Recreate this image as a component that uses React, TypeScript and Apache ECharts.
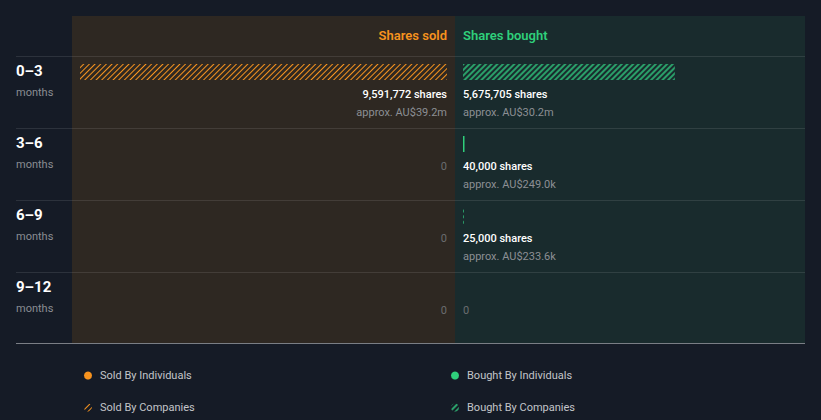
import React, { useEffect, useRef } from 'react';
import * as echarts from 'echarts';

const periods = ['0–3', '3–6', '6–9', '9–12'];
const soldByIndividuals = [0, 0, 0, 0];
const soldByCompanies = [9591772, 0, 0, 0];
const boughtByIndividuals = [0, 40000, 0, 0];
const boughtByCompanies = [5675705, 0, 25000, 0];
const soldApprox = ['AU$39.2m', '', '', ''];
const boughtApprox = ['AU$30.2m', 'AU$249.0k', 'AU$233.6k', ''];

const ORANGE = '#f7931e';
const GREEN = '#2fcf7b';
const GREEN_HATCH = '#2a9f69';
const BG = '#151b26';
const FONT = 'Roboto, sans-serif';

const soldTotals = periods.map((_, i) => soldByIndividuals[i] + soldByCompanies[i]);
const boughtTotals = periods.map((_, i) => boughtByIndividuals[i] + boughtByCompanies[i]);
const scaleMax = Math.max(...soldTotals, ...boughtTotals);

function hatch(color: string, w: number, gap: number) {
  return {
    symbol: 'rect',
    symbolSize: 1,
    color,
    dashArrayX: [1, 0],
    dashArrayY: [w, gap],
    rotation: -Math.PI / 4,
  };
}

function labelSeries(side: number) {
  const totals = side === 0 ? soldTotals : boughtTotals;
  const approx = side === 0 ? soldApprox : boughtApprox;
  const align = side === 0 ? 'right' : 'left';
  return {
    type: 'custom',
    xAxisIndex: side,
    yAxisIndex: side,
    silent: true,
    z: 5,
    data: periods.map((_, i) => [0, i]),
    encode: { x: 0, y: 1 },
    renderItem: (params: any, api: any) => {
      const i = params.dataIndex;
      const pt = api.coord([0, i]);
      const children: any[] = [];
      if (totals[i] > 0) {
        children.push({
          type: 'text',
          x: pt[0],
          y: pt[1] + 2,
          style: {
            text: totals[i].toLocaleString('en-US') + ' shares',
            fill: '#ffffff',
            font: `500 11px ${FONT}`,
            align,
            verticalAlign: 'middle',
          },
        });
        children.push({
          type: 'text',
          x: pt[0],
          y: pt[1] + 20,
          style: {
            text: 'approx. ' + approx[i],
            fill: '#8c8f94',
            font: `400 11px ${FONT}`,
            align,
            verticalAlign: 'middle',
          },
        });
      } else {
        children.push({
          type: 'text',
          x: pt[0],
          y: pt[1] + 2,
          style: {
            text: '0',
            fill: '#6b6d70',
            font: `400 11px ${FONT}`,
            align,
            verticalAlign: 'middle',
          },
        });
      }
      return { type: 'group', children };
    },
  };
}

function legendItem(name: string, left: number, top: number) {
  return {
    left,
    top,
    itemWidth: 8,
    itemHeight: 8,
    icon: 'circle',
    data: [name],
    selectedMode: false,
    textStyle: { color: '#c3c5c9', fontSize: 11, padding: [0, 0, 0, 3], fontFamily: FONT },
  };
}

export default function App() {
  const ref = useRef<HTMLDivElement>(null);
  useEffect(() => {
    if (!ref.current) return;
    const chart = echarts.init(ref.current, null, { renderer: 'svg' });
    const lineYs = [56.5, 128.5, 200.5, 272.5];
    const option: any = {
      animation: false,
      backgroundColor: BG,
      textStyle: { fontFamily: FONT },
      graphic: [
        { type: 'rect', z: -10, shape: { x: 72, y: 16, width: 383, height: 327 }, style: { fill: '#2e2822' } },
        { type: 'rect', z: -10, shape: { x: 455, y: 16, width: 350, height: 327 }, style: { fill: '#192b2d' } },
        ...lineYs.map((y) => ({
          type: 'line',
          z: -5,
          shape: { x1: 16, y1: y, x2: 805, y2: y },
          style: { stroke: 'rgba(255,255,255,0.1)', lineWidth: 1 },
        })),
        {
          type: 'line',
          z: -5,
          shape: { x1: 16, y1: 343.5, x2: 805, y2: 343.5 },
          style: { stroke: '#7a7e85', lineWidth: 1 },
        },
        {
          type: 'text',
          x: 447,
          y: 35,
          style: { text: 'Shares sold', fill: ORANGE, font: `600 13px ${FONT}`, align: 'right', verticalAlign: 'middle' },
        },
        {
          type: 'text',
          x: 463,
          y: 35,
          style: { text: 'Shares bought', fill: GREEN, font: `600 13px ${FONT}`, align: 'left', verticalAlign: 'middle' },
        },
      ],
      grid: [
        { left: 80, top: 56, width: 367, height: 288 },
        { left: 463, top: 56, width: 367, height: 288 },
      ],
      xAxis: [
        { gridIndex: 0, type: 'value', min: 0, max: scaleMax, inverse: true, show: false },
        { gridIndex: 1, type: 'value', min: 0, max: scaleMax, show: false },
      ],
      yAxis: [
        {
          gridIndex: 0,
          type: 'category',
          data: periods,
          inverse: true,
          axisLine: { show: false },
          axisTick: { show: false },
          splitLine: { show: false },
          axisLabel: {
            margin: 64,
            align: 'left',
            formatter: (v: string) => `{a|${v}}\n{b|months}\n{c| }`,
            rich: {
              a: { fontSize: 15, fontWeight: 'bold', color: '#ffffff', lineHeight: 21, fontFamily: FONT },
              b: { fontSize: 11, color: '#8a8d93', lineHeight: 21, fontFamily: FONT },
              c: { fontSize: 11, lineHeight: 21 },
            },
          },
        },
        { gridIndex: 1, type: 'category', data: periods, inverse: true, show: false },
      ],
      legend: [
        legendItem('Sold By Individuals', 79, 365),
        legendItem('Sold By Companies', 79, 397),
        legendItem('Bought By Individuals', 446, 365),
        legendItem('Bought By Companies', 446, 397),
      ],
      series: [
        {
          name: 'Sold By Individuals',
          type: 'bar',
          xAxisIndex: 0,
          yAxisIndex: 0,
          stack: 'sold',
          barWidth: 16,
          barGap: '150%',
          itemStyle: { color: ORANGE },
          data: soldByIndividuals,
        },
        {
          name: 'Sold By Companies',
          type: 'bar',
          xAxisIndex: 0,
          yAxisIndex: 0,
          stack: 'sold',
          barWidth: 16,
          barGap: '150%',
          itemStyle: { color: 'rgba(0,0,0,0)', decal: hatch(ORANGE, 0.8, 2.1) },
          data: soldByCompanies,
        },
        {
          type: 'bar',
          xAxisIndex: 0,
          yAxisIndex: 0,
          barWidth: 16,
          barGap: '150%',
          silent: true,
          data: periods.map(() => '-'),
        },
        {
          name: 'Bought By Individuals',
          type: 'bar',
          xAxisIndex: 1,
          yAxisIndex: 1,
          stack: 'bought',
          barWidth: 16,
          barGap: '150%',
          itemStyle: { color: GREEN },
          data: boughtByIndividuals,
        },
        {
          name: 'Bought By Companies',
          type: 'bar',
          xAxisIndex: 1,
          yAxisIndex: 1,
          stack: 'bought',
          barWidth: 16,
          barGap: '150%',
          itemStyle: { color: 'rgba(0,0,0,0)', decal: hatch(GREEN_HATCH, 1.4, 1.5) },
          data: boughtByCompanies,
        },
        {
          type: 'bar',
          xAxisIndex: 1,
          yAxisIndex: 1,
          barWidth: 16,
          barGap: '150%',
          silent: true,
          data: periods.map(() => '-'),
        },
        labelSeries(0),
        labelSeries(1),
      ],
    };
    chart.setOption(option);
    return () => chart.dispose();
  }, []);
  return <div ref={ref} style={{ position: 'fixed', left: 0, top: 0, width: 821, height: 420 }} />;
}
